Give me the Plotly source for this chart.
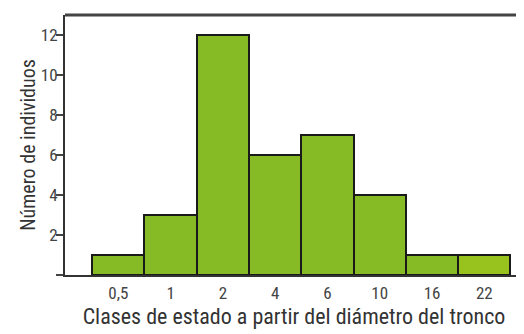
import plotly.graph_objects as go

clases = ["0,5", "1", "2", "4", "6", "10", "16", "22"]
individuos = [1, 3, 12, 6, 7, 4, 1, 1]
colores = ["#86BB25"] * 7 + ["#98C21E"]

FONT = "Roboto Condensed, DejaVu Sans Condensed, sans-serif"

fig = go.Figure(
    go.Bar(
        x=list(range(len(clases))),
        y=individuos,
        marker=dict(color=colores, line=dict(color="#1a1a1a", width=2)),
        width=1,
    )
)

# the html page adds an 8px body margin, so the figure is a bit smaller
fig.update_layout(
    width=516,
    height=326,
    margin=dict(l=57, r=1, t=7, b=59),
    paper_bgcolor="white",
    plot_bgcolor="white",
    showlegend=False,
    bargap=0,
    font=dict(family=FONT, color="#333333"),
)

fig.update_xaxes(
    automargin=False,
    range=[-1.02, 7.74],
    tickvals=list(range(len(clases))),
    ticktext=clases,
    ticks="",
    ticklabelstandoff=2,
    showgrid=False,
    zeroline=False,
    showline=True,
    linecolor="#333333",
    linewidth=2,
    tickfont=dict(size=17, family=FONT, color="#444444"),
    title=dict(
        text="Clases de estado a partir del diámetro del tronco",
        font=dict(size=22, family=FONT, color="#333333"),
        standoff=6,
    ),
)

fig.update_yaxes(
    automargin=False,
    range=[0, 13.0],
    tickvals=[0, 2, 4, 6, 8, 10, 12],
    ticktext=["", "2", "4", "6", "8", "10", "12"],
    ticks="outside",
    ticklen=7,
    tickwidth=2,
    tickcolor="#444444",
    ticklabelstandoff=-5,
    showgrid=False,
    zeroline=False,
    showline=True,
    linecolor="#333333",
    linewidth=2,
    tickfont=dict(size=17, family=FONT, color="#444444"),
    title=dict(
        text="Número de individuos",
        font=dict(size=20, family=FONT, color="#333333"),
        standoff=0,
    ),
)

# top border line of the frame
fig.add_shape(
    type="line", xref="paper", yref="paper",
    x0=0, x1=1, y0=1, y1=1,
    line=dict(color="#444444", width=3),
)
fig.add_shape(
    type="line", xref="paper", yref="paper",
    x0=1, x1=1, y0=0, y1=1,
    line=dict(color="#dddddd", width=1),
)

fig.write_html("out.html")
